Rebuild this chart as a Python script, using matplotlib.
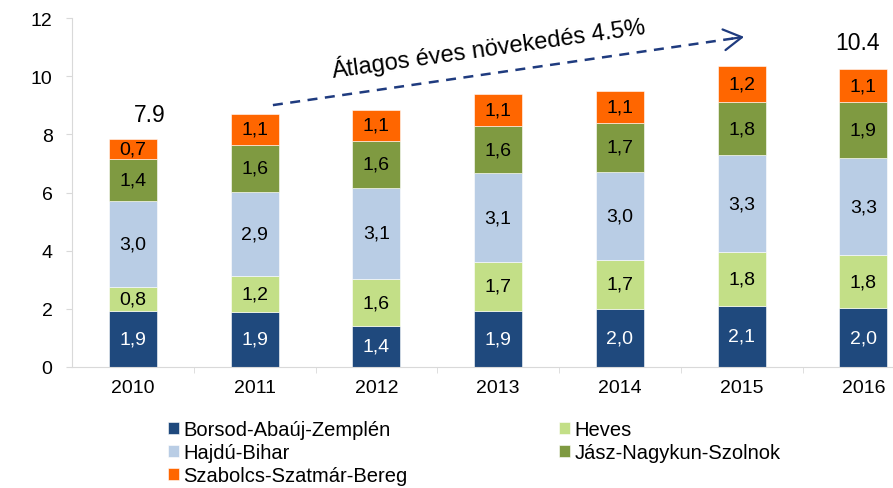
import matplotlib
matplotlib.use("Agg")
import matplotlib.pyplot as plt
import numpy as np

plt.rcParams["font.family"] = ["Liberation Sans", "DejaVu Sans"]

years = ["2010", "2011", "2012", "2013", "2014", "2015", "2016"]
series = ["Borsod-Abaúj-Zemplén", "Heves", "Hajdú-Bihar",
          "Jász-Nagykun-Szolnok", "Szabolcs-Szatmár-Bereg"]
borsod = [1.91, 1.89, 1.40, 1.93, 1.99, 2.10, 2.01]
heves = [0.84, 1.22, 1.62, 1.67, 1.69, 1.84, 1.84]
hajdu = [2.97, 2.90, 3.14, 3.06, 3.04, 3.34, 3.33]
jasz = [1.44, 1.64, 1.63, 1.62, 1.69, 1.84, 1.92]
szabolcs = [0.67, 1.07, 1.05, 1.12, 1.10, 1.24, 1.14]
totals = {"2010": "7.9", "2016": "10.4"}
trend_text = "Átlagos éves növekedés 4.5%"

colors = ["#1F497D", "#C3DF87", "#B9CDE5", "#7F9A41", "#FF6600"]
text_colors = ["white", "black", "black", "black", "black"]

fig = plt.figure(figsize=(8.93, 4.89), dpi=100)
ax = fig.add_axes([72 / 893, 1 - 367.7 / 489, 1 - 72 / 893, (367.7 - 19.3) / 489])

x = np.arange(len(years))
bottom = np.zeros(len(years))
handles = []
for vals, name, col, tc in zip([borsod, heves, hajdu, jasz, szabolcs], series, colors, text_colors):
    vals = np.array(vals)
    bars = ax.bar(x, vals, 0.395, bottom=bottom, color=col, edgecolor="white",
                  linewidth=0.4, label=name)
    handles.append(bars)
    for xi, b, v in zip(x, bottom, vals):
        ax.text(xi, b + v / 2, f"{v:.1f}".replace(".", ","), ha="center", va="center",
                fontsize=14, color=tc)
    bottom += vals

ax.text(0.14, 8.70, totals["2010"], ha="center", va="center", fontsize=16.5)
ax.text(5.95, 11.18, totals["2016"], ha="center", va="center", fontsize=16.5)

# trend arrow: dashed shaft, solid open head
x0, y0, x1, y1 = 1.15, 9.01, 5.02, 11.36
ax.plot([x0, x1 - 0.03], [y0, y1 - 0.018], color="#1F3B7F", lw=1.8, ls=(0, (4, 3)))
ax.annotate("", xy=(x1, y1), xytext=(x1 - 0.1, y1 - 0.06),
            arrowprops=dict(arrowstyle="->,head_length=1.3,head_width=0.75",
                            color="#1F3B7F", lw=1.6, shrinkA=0, shrinkB=0))
ax.text(2.92, 11.0, trend_text, ha="center", va="center", rotation=8,
        rotation_mode="anchor", fontsize=17)

ax.set_xlim(-0.5, 6.243)
ax.set_ylim(0, 12)
ax.set_yticks(range(0, 13, 2))
ax.set_xticks(x)
ax.set_xticklabels(years)
ax.set_xticks(np.arange(0.5, 6.5, 1), minor=True)
ax.tick_params(axis="x", which="major", length=0, pad=9, labelsize=14)
ax.tick_params(axis="x", which="minor", length=4, color="#D9D9D9", direction="out")
ax.tick_params(axis="y", length=4, color="#D9D9D9", pad=10, labelsize=14)
for s in ["top", "right"]:
    ax.spines[s].set_visible(False)
for s in ["left", "bottom"]:
    ax.spines[s].set_color("#D9D9D9")

order = [0, 2, 4, 1, 3]
fig.legend([handles[i] for i in order], [series[i] for i in order],
           loc="upper left", bbox_to_anchor=(168 / 893, 1 - 421 / 489),
           ncol=2, frameon=False, fontsize=14.5, borderaxespad=0, borderpad=0,
           handlelength=0.55, handleheight=0.55, handletextpad=0.2,
           labelspacing=0.2, columnspacing=7.55)

fig.savefig("out.png", dpi=100)
